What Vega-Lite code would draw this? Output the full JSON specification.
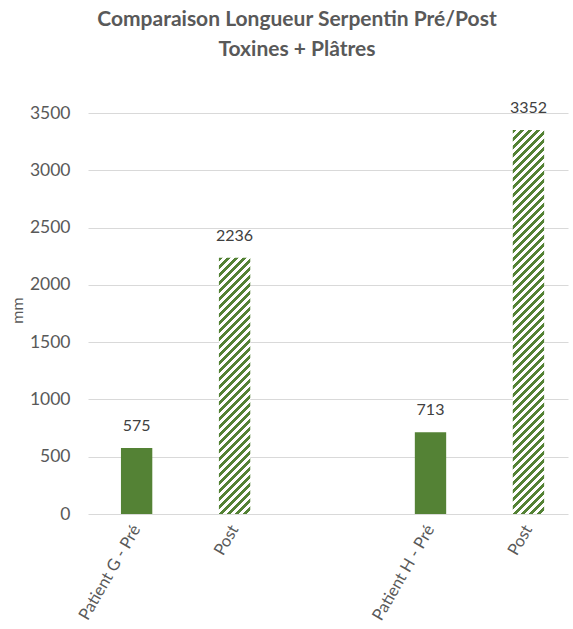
{
  "$schema": "https://vega.github.io/schema/vega-lite/v6.json",
  "autosize": "none",
  "width": 480,
  "height": 401,
  "padding": {"left": 88, "top": 113, "right": 5, "bottom": 115},
  "background": "white",
  "title": {
    "text": ["Comparaison Longueur Serpentin Pré/Post", "Toxines + Plâtres"],
    "anchor": "middle",
    "frame": "group",
    "dx": -31,
    "offset": 19,
    "font": "Lato",
    "fontSize": 21,
    "fontWeight": "bold",
    "color": "#595959",
    "lineHeight": 30,
    "baseline": "bottom"
  },
  "config": {
    "view": {"stroke": null},
    "axis": {"labelFont": "Lato", "labelFontSize": 16, "labelColor": "#595959", "titleFont": "Lato", "titleFontSize": 16, "titleColor": "#595959", "titleFontWeight": "normal"}
  },
  "data": {
    "values": [
      {"cat": "G-Pre", "value": 575, "type": "Pré"},
      {"cat": "G-Post", "value": 2236, "type": "Post"},
      {"cat": "H-Pre", "value": 713, "type": "Pré"},
      {"cat": "H-Post", "value": 3352, "type": "Post"}
    ]
  },
  "encoding": {
    "x": {
      "field": "cat",
      "type": "nominal",
      "sort": null,
      "scale": {"domain": ["G-Pre", "G-Post", "gap", "H-Pre", "H-Post"], "paddingInner": 0.68, "paddingOuter": 0.29, "align": 0.58},
      "axis": {
        "title": null,
        "domain": false,
        "ticks": false,
        "labelAngle": -60,
        "labelAlign": "right",
        "labelBaseline": "middle",
        "labelPadding": 12,
        "labelFontSize": 16.5,
        "labelExpr": "datum.value == 'G-Pre' ? 'Patient G - Pré' : datum.value == 'H-Pre' ? 'Patient H - Pré' : datum.value == 'gap' ? '' : 'Post'"
      }
    },
    "y": {
      "field": "value",
      "type": "quantitative",
      "scale": {"domain": [0, 3500], "nice": false},
      "axis": {
        "title": "mm",
        "values": [0, 500, 1000, 1500, 2000, 2500, 3000, 3500],
        "format": "d",
        "domain": false,
        "ticks": false,
        "labelPadding": 18,
        "labelFontSize": 17.5,
        "gridColor": "#d9d9d9",
        "gridWidth": 1,
        "titleAngle": -90,
        "titleX": -71,
        "titleY": 197,
        "titleAlign": "center",
        "titleBaseline": "middle"
      }
    }
  },
  "layer": [
    {
      "transform": [{"filter": "datum.type == 'Pré'"}],
      "mark": {"type": "bar", "fill": "#548235"}
    },
    {
      "transform": [{"filter": "datum.cat == 'G-Post'"}],
      "mark": {
        "type": "bar",
        "fill": {
          "gradient": "linear", "x1": 0, "y1": 0, "x2": 0.13532, "y2": 1.1059,
          "stops": [
            {"offset":0,"color":"#548235"},
            {"offset":0.0139,"color":"#548235"},{"offset":0.0139,"color":"#fff"},
            {"offset":0.0278,"color":"#fff"},{"offset":0.0278,"color":"#548235"},
            {"offset":0.0417,"color":"#548235"},{"offset":0.0417,"color":"#fff"},
            {"offset":0.0556,"color":"#fff"},{"offset":0.0556,"color":"#548235"},
            {"offset":0.0694,"color":"#548235"},{"offset":0.0694,"color":"#fff"},
            {"offset":0.0833,"color":"#fff"},{"offset":0.0833,"color":"#548235"},
            {"offset":0.0972,"color":"#548235"},{"offset":0.0972,"color":"#fff"},
            {"offset":0.1111,"color":"#fff"},{"offset":0.1111,"color":"#548235"},
            {"offset":0.125,"color":"#548235"},{"offset":0.125,"color":"#fff"},
            {"offset":0.1389,"color":"#fff"},{"offset":0.1389,"color":"#548235"},
            {"offset":0.1528,"color":"#548235"},{"offset":0.1528,"color":"#fff"},
            {"offset":0.1667,"color":"#fff"},{"offset":0.1667,"color":"#548235"},
            {"offset":0.1806,"color":"#548235"},{"offset":0.1806,"color":"#fff"},
            {"offset":0.1944,"color":"#fff"},{"offset":0.1944,"color":"#548235"},
            {"offset":0.2083,"color":"#548235"},{"offset":0.2083,"color":"#fff"},
            {"offset":0.2222,"color":"#fff"},{"offset":0.2222,"color":"#548235"},
            {"offset":0.2361,"color":"#548235"},{"offset":0.2361,"color":"#fff"},
            {"offset":0.25,"color":"#fff"},{"offset":0.25,"color":"#548235"},
            {"offset":0.2639,"color":"#548235"},{"offset":0.2639,"color":"#fff"},
            {"offset":0.2778,"color":"#fff"},{"offset":0.2778,"color":"#548235"},
            {"offset":0.2917,"color":"#548235"},{"offset":0.2917,"color":"#fff"},
            {"offset":0.3056,"color":"#fff"},{"offset":0.3056,"color":"#548235"},
            {"offset":0.3194,"color":"#548235"},{"offset":0.3194,"color":"#fff"},
            {"offset":0.3333,"color":"#fff"},{"offset":0.3333,"color":"#548235"},
            {"offset":0.3472,"color":"#548235"},{"offset":0.3472,"color":"#fff"},
            {"offset":0.3611,"color":"#fff"},{"offset":0.3611,"color":"#548235"},
            {"offset":0.375,"color":"#548235"},{"offset":0.375,"color":"#fff"},
            {"offset":0.3889,"color":"#fff"},{"offset":0.3889,"color":"#548235"},
            {"offset":0.4028,"color":"#548235"},{"offset":0.4028,"color":"#fff"},
            {"offset":0.4167,"color":"#fff"},{"offset":0.4167,"color":"#548235"},
            {"offset":0.4306,"color":"#548235"},{"offset":0.4306,"color":"#fff"},
            {"offset":0.4444,"color":"#fff"},{"offset":0.4444,"color":"#548235"},
            {"offset":0.4583,"color":"#548235"},{"offset":0.4583,"color":"#fff"},
            {"offset":0.4722,"color":"#fff"},{"offset":0.4722,"color":"#548235"},
            {"offset":0.4861,"color":"#548235"},{"offset":0.4861,"color":"#fff"},
            {"offset":0.5,"color":"#fff"},{"offset":0.5,"color":"#548235"},
            {"offset":0.5139,"color":"#548235"},{"offset":0.5139,"color":"#fff"},
            {"offset":0.5278,"color":"#fff"},{"offset":0.5278,"color":"#548235"},
            {"offset":0.5417,"color":"#548235"},{"offset":0.5417,"color":"#fff"},
            {"offset":0.5556,"color":"#fff"},{"offset":0.5556,"color":"#548235"},
            {"offset":0.5694,"color":"#548235"},{"offset":0.5694,"color":"#fff"},
            {"offset":0.5833,"color":"#fff"},{"offset":0.5833,"color":"#548235"},
            {"offset":0.5972,"color":"#548235"},{"offset":0.5972,"color":"#fff"},
            {"offset":0.6111,"color":"#fff"},{"offset":0.6111,"color":"#548235"},
            {"offset":0.625,"color":"#548235"},{"offset":0.625,"color":"#fff"},
            {"offset":0.6389,"color":"#fff"},{"offset":0.6389,"color":"#548235"},
            {"offset":0.6528,"color":"#548235"},{"offset":0.6528,"color":"#fff"},
            {"offset":0.6667,"color":"#fff"},{"offset":0.6667,"color":"#548235"},
            {"offset":0.6806,"color":"#548235"},{"offset":0.6806,"color":"#fff"},
            {"offset":0.6944,"color":"#fff"},{"offset":0.6944,"color":"#548235"},
            {"offset":0.7083,"color":"#548235"},{"offset":0.7083,"color":"#fff"},
            {"offset":0.7222,"color":"#fff"},{"offset":0.7222,"color":"#548235"},
            {"offset":0.7361,"color":"#548235"},{"offset":0.7361,"color":"#fff"},
            {"offset":0.75,"color":"#fff"},{"offset":0.75,"color":"#548235"},
            {"offset":0.7639,"color":"#548235"},{"offset":0.7639,"color":"#fff"},
            {"offset":0.7778,"color":"#fff"},{"offset":0.7778,"color":"#548235"},
            {"offset":0.7917,"color":"#548235"},{"offset":0.7917,"color":"#fff"},
            {"offset":0.8056,"color":"#fff"},{"offset":0.8056,"color":"#548235"},
            {"offset":0.8194,"color":"#548235"},{"offset":0.8194,"color":"#fff"},
            {"offset":0.8333,"color":"#fff"},{"offset":0.8333,"color":"#548235"},
            {"offset":0.8472,"color":"#548235"},{"offset":0.8472,"color":"#fff"},
            {"offset":0.8611,"color":"#fff"},{"offset":0.8611,"color":"#548235"},
            {"offset":0.875,"color":"#548235"},{"offset":0.875,"color":"#fff"},
            {"offset":0.8889,"color":"#fff"},{"offset":0.8889,"color":"#548235"},
            {"offset":0.9028,"color":"#548235"},{"offset":0.9028,"color":"#fff"},
            {"offset":0.9167,"color":"#fff"},{"offset":0.9167,"color":"#548235"},
            {"offset":0.9306,"color":"#548235"},{"offset":0.9306,"color":"#fff"},
            {"offset":0.9444,"color":"#fff"},{"offset":0.9444,"color":"#548235"},
            {"offset":0.9583,"color":"#548235"},{"offset":0.9583,"color":"#fff"},
            {"offset":0.9722,"color":"#fff"},{"offset":0.9722,"color":"#548235"},
            {"offset":0.9861,"color":"#548235"},{"offset":0.9861,"color":"#fff"},
            {"offset":1,"color":"#fff"}
          ]
        }
      }
    },
    {
      "transform": [{"filter": "datum.cat == 'H-Post'"}],
      "mark": {
        "type": "bar",
        "fill": {
          "gradient": "linear", "x1": 0, "y1": 0, "x2": 0.08771, "y2": 1.07449,
          "stops": [
            {"offset":0,"color":"#548235"},
            {"offset":0.0096,"color":"#548235"},{"offset":0.0096,"color":"#fff"},
            {"offset":0.0192,"color":"#fff"},{"offset":0.0192,"color":"#548235"},
            {"offset":0.0288,"color":"#548235"},{"offset":0.0288,"color":"#fff"},
            {"offset":0.0385,"color":"#fff"},{"offset":0.0385,"color":"#548235"},
            {"offset":0.0481,"color":"#548235"},{"offset":0.0481,"color":"#fff"},
            {"offset":0.0577,"color":"#fff"},{"offset":0.0577,"color":"#548235"},
            {"offset":0.0673,"color":"#548235"},{"offset":0.0673,"color":"#fff"},
            {"offset":0.0769,"color":"#fff"},{"offset":0.0769,"color":"#548235"},
            {"offset":0.0865,"color":"#548235"},{"offset":0.0865,"color":"#fff"},
            {"offset":0.0962,"color":"#fff"},{"offset":0.0962,"color":"#548235"},
            {"offset":0.1058,"color":"#548235"},{"offset":0.1058,"color":"#fff"},
            {"offset":0.1154,"color":"#fff"},{"offset":0.1154,"color":"#548235"},
            {"offset":0.125,"color":"#548235"},{"offset":0.125,"color":"#fff"},
            {"offset":0.1346,"color":"#fff"},{"offset":0.1346,"color":"#548235"},
            {"offset":0.1442,"color":"#548235"},{"offset":0.1442,"color":"#fff"},
            {"offset":0.1538,"color":"#fff"},{"offset":0.1538,"color":"#548235"},
            {"offset":0.1635,"color":"#548235"},{"offset":0.1635,"color":"#fff"},
            {"offset":0.1731,"color":"#fff"},{"offset":0.1731,"color":"#548235"},
            {"offset":0.1827,"color":"#548235"},{"offset":0.1827,"color":"#fff"},
            {"offset":0.1923,"color":"#fff"},{"offset":0.1923,"color":"#548235"},
            {"offset":0.2019,"color":"#548235"},{"offset":0.2019,"color":"#fff"},
            {"offset":0.2115,"color":"#fff"},{"offset":0.2115,"color":"#548235"},
            {"offset":0.2212,"color":"#548235"},{"offset":0.2212,"color":"#fff"},
            {"offset":0.2308,"color":"#fff"},{"offset":0.2308,"color":"#548235"},
            {"offset":0.2404,"color":"#548235"},{"offset":0.2404,"color":"#fff"},
            {"offset":0.25,"color":"#fff"},{"offset":0.25,"color":"#548235"},
            {"offset":0.2596,"color":"#548235"},{"offset":0.2596,"color":"#fff"},
            {"offset":0.2692,"color":"#fff"},{"offset":0.2692,"color":"#548235"},
            {"offset":0.2788,"color":"#548235"},{"offset":0.2788,"color":"#fff"},
            {"offset":0.2885,"color":"#fff"},{"offset":0.2885,"color":"#548235"},
            {"offset":0.2981,"color":"#548235"},{"offset":0.2981,"color":"#fff"},
            {"offset":0.3077,"color":"#fff"},{"offset":0.3077,"color":"#548235"},
            {"offset":0.3173,"color":"#548235"},{"offset":0.3173,"color":"#fff"},
            {"offset":0.3269,"color":"#fff"},{"offset":0.3269,"color":"#548235"},
            {"offset":0.3365,"color":"#548235"},{"offset":0.3365,"color":"#fff"},
            {"offset":0.3462,"color":"#fff"},{"offset":0.3462,"color":"#548235"},
            {"offset":0.3558,"color":"#548235"},{"offset":0.3558,"color":"#fff"},
            {"offset":0.3654,"color":"#fff"},{"offset":0.3654,"color":"#548235"},
            {"offset":0.375,"color":"#548235"},{"offset":0.375,"color":"#fff"},
            {"offset":0.3846,"color":"#fff"},{"offset":0.3846,"color":"#548235"},
            {"offset":0.3942,"color":"#548235"},{"offset":0.3942,"color":"#fff"},
            {"offset":0.4038,"color":"#fff"},{"offset":0.4038,"color":"#548235"},
            {"offset":0.4135,"color":"#548235"},{"offset":0.4135,"color":"#fff"},
            {"offset":0.4231,"color":"#fff"},{"offset":0.4231,"color":"#548235"},
            {"offset":0.4327,"color":"#548235"},{"offset":0.4327,"color":"#fff"},
            {"offset":0.4423,"color":"#fff"},{"offset":0.4423,"color":"#548235"},
            {"offset":0.4519,"color":"#548235"},{"offset":0.4519,"color":"#fff"},
            {"offset":0.4615,"color":"#fff"},{"offset":0.4615,"color":"#548235"},
            {"offset":0.4712,"color":"#548235"},{"offset":0.4712,"color":"#fff"},
            {"offset":0.4808,"color":"#fff"},{"offset":0.4808,"color":"#548235"},
            {"offset":0.4904,"color":"#548235"},{"offset":0.4904,"color":"#fff"},
            {"offset":0.5,"color":"#fff"},{"offset":0.5,"color":"#548235"},
            {"offset":0.5096,"color":"#548235"},{"offset":0.5096,"color":"#fff"},
            {"offset":0.5192,"color":"#fff"},{"offset":0.5192,"color":"#548235"},
            {"offset":0.5288,"color":"#548235"},{"offset":0.5288,"color":"#fff"},
            {"offset":0.5385,"color":"#fff"},{"offset":0.5385,"color":"#548235"},
            {"offset":0.5481,"color":"#548235"},{"offset":0.5481,"color":"#fff"},
            {"offset":0.5577,"color":"#fff"},{"offset":0.5577,"color":"#548235"},
            {"offset":0.5673,"color":"#548235"},{"offset":0.5673,"color":"#fff"},
            {"offset":0.5769,"color":"#fff"},{"offset":0.5769,"color":"#548235"},
            {"offset":0.5865,"color":"#548235"},{"offset":0.5865,"color":"#fff"},
            {"offset":0.5962,"color":"#fff"},{"offset":0.5962,"color":"#548235"},
            {"offset":0.6058,"color":"#548235"},{"offset":0.6058,"color":"#fff"},
            {"offset":0.6154,"color":"#fff"},{"offset":0.6154,"color":"#548235"},
            {"offset":0.625,"color":"#548235"},{"offset":0.625,"color":"#fff"},
            {"offset":0.6346,"color":"#fff"},{"offset":0.6346,"color":"#548235"},
            {"offset":0.6442,"color":"#548235"},{"offset":0.6442,"color":"#fff"},
            {"offset":0.6538,"color":"#fff"},{"offset":0.6538,"color":"#548235"},
            {"offset":0.6635,"color":"#548235"},{"offset":0.6635,"color":"#fff"},
            {"offset":0.6731,"color":"#fff"},{"offset":0.6731,"color":"#548235"},
            {"offset":0.6827,"color":"#548235"},{"offset":0.6827,"color":"#fff"},
            {"offset":0.6923,"color":"#fff"},{"offset":0.6923,"color":"#548235"},
            {"offset":0.7019,"color":"#548235"},{"offset":0.7019,"color":"#fff"},
            {"offset":0.7115,"color":"#fff"},{"offset":0.7115,"color":"#548235"},
            {"offset":0.7212,"color":"#548235"},{"offset":0.7212,"color":"#fff"},
            {"offset":0.7308,"color":"#fff"},{"offset":0.7308,"color":"#548235"},
            {"offset":0.7404,"color":"#548235"},{"offset":0.7404,"color":"#fff"},
            {"offset":0.75,"color":"#fff"},{"offset":0.75,"color":"#548235"},
            {"offset":0.7596,"color":"#548235"},{"offset":0.7596,"color":"#fff"},
            {"offset":0.7692,"color":"#fff"},{"offset":0.7692,"color":"#548235"},
            {"offset":0.7788,"color":"#548235"},{"offset":0.7788,"color":"#fff"},
            {"offset":0.7885,"color":"#fff"},{"offset":0.7885,"color":"#548235"},
            {"offset":0.7981,"color":"#548235"},{"offset":0.7981,"color":"#fff"},
            {"offset":0.8077,"color":"#fff"},{"offset":0.8077,"color":"#548235"},
            {"offset":0.8173,"color":"#548235"},{"offset":0.8173,"color":"#fff"},
            {"offset":0.8269,"color":"#fff"},{"offset":0.8269,"color":"#548235"},
            {"offset":0.8365,"color":"#548235"},{"offset":0.8365,"color":"#fff"},
            {"offset":0.8462,"color":"#fff"},{"offset":0.8462,"color":"#548235"},
            {"offset":0.8558,"color":"#548235"},{"offset":0.8558,"color":"#fff"},
            {"offset":0.8654,"color":"#fff"},{"offset":0.8654,"color":"#548235"},
            {"offset":0.875,"color":"#548235"},{"offset":0.875,"color":"#fff"},
            {"offset":0.8846,"color":"#fff"},{"offset":0.8846,"color":"#548235"},
            {"offset":0.8942,"color":"#548235"},{"offset":0.8942,"color":"#fff"},
            {"offset":0.9038,"color":"#fff"},{"offset":0.9038,"color":"#548235"},
            {"offset":0.9135,"color":"#548235"},{"offset":0.9135,"color":"#fff"},
            {"offset":0.9231,"color":"#fff"},{"offset":0.9231,"color":"#548235"},
            {"offset":0.9327,"color":"#548235"},{"offset":0.9327,"color":"#fff"},
            {"offset":0.9423,"color":"#fff"},{"offset":0.9423,"color":"#548235"},
            {"offset":0.9519,"color":"#548235"},{"offset":0.9519,"color":"#fff"},
            {"offset":0.9615,"color":"#fff"},{"offset":0.9615,"color":"#548235"},
            {"offset":0.9712,"color":"#548235"},{"offset":0.9712,"color":"#fff"},
            {"offset":0.9808,"color":"#fff"},{"offset":0.9808,"color":"#548235"},
            {"offset":0.9904,"color":"#548235"},{"offset":0.9904,"color":"#fff"},
            {"offset":1,"color":"#fff"}
          ]
        }
      }
    },
    {
      "mark": {"type": "text", "font": "Lato", "fontSize": 16, "color": "#404040", "baseline": "middle", "dy": -22},
      "encoding": {"text": {"field": "value", "type": "quantitative", "format": "d"}}
    }
  ]
}
